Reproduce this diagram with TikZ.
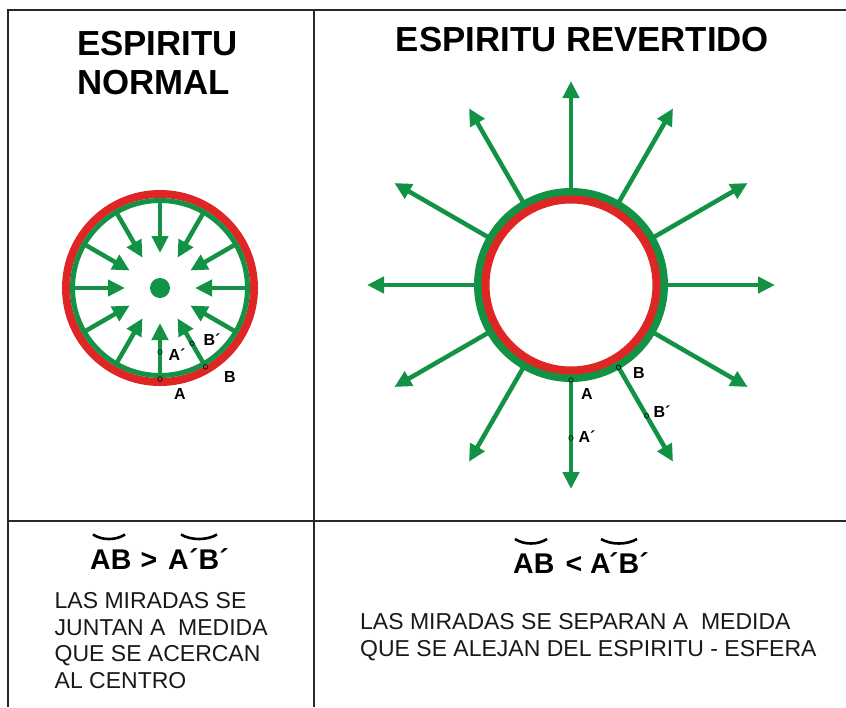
\documentclass[tikz,border=0pt]{standalone}
\usepackage{fontspec}
\setmainfont{Liberation Sans}
\usetikzlibrary{arrows.meta,calc}
\definecolor{gr}{RGB}{18,146,68}
\definecolor{rd}{RGB}{222,38,36}
\definecolor{frm}{RGB}{40,40,40}
\begin{document}
\begin{tikzpicture}[x=1pt,y=-1pt,
  frame/.style={draw=frm,line width=2pt},
  ttl/.style={font=\fontsize{34.8}{42}\selectfont\bfseries,inner sep=0},
  body/.style={font=\fontsize{23}{27}\selectfont,inner sep=0,anchor=base west,text=black!90},
  eqn/.style={font=\fontsize{28.5}{30}\selectfont\bfseries,inner sep=0,anchor=base west},
  lbl/.style={font=\fontsize{16}{16}\selectfont\bfseries,inner sep=0},
  arr/.style={draw=gr,line width=4.5pt,-{Triangle[length=17pt,width=16pt]}},
  pt/.style={circle,draw=black,line width=0.6pt,inner sep=0,minimum size=4.5pt},
  arcl/.style={draw=black,line width=2.6pt}
]
\fill[white] (0,0) rectangle (846,707);
\path[use as bounding box] (0,0) rectangle (846,707);
% frame
\draw[frame] (8,707) -- (8,10) -- (846,10);
\draw[frame] (314,10) -- (314,707);
\draw[frame] (8,521) -- (846,521);
% titles
\node[ttl,anchor=base west] (t1) at (77,55) {ESPIRITU};
\node[ttl,anchor=base west] (t2) at (77,94) {NORMAL};
\node[ttl,anchor=base] (t3) at (582.5,51) {ESPIRITU REVERTIDO};
% left circle
\coordinate (lc) at (160,288);
\draw[rd,line width=8pt] (lc) circle[radius=94];
\draw[gr,line width=5pt] (lc) circle[radius=87.5];
\fill[gr] (lc) circle[radius=10];
\foreach \a in {0,30,...,330}{
  \coordinate (lo\a) at ($(lc)+(\a:88)$);
  \coordinate (li\a) at ($(lc)+(\a:35)$);
  \draw[arr] (lo\a) -- (li\a);
}
\node[pt] (lA) at ($(lc)+(90:91)$) {};
\node[pt] (lB) at ($(lc)+(60:91)$) {};
\node[pt] (lAp) at ($(lc)+(90:64)$) {};
\node[pt] (lBp) at ($(lc)+(60:64)$) {};
\node[lbl] (lAl) at (180,394) {A};
\node[lbl] (lBl) at (230,377) {B};
\node[lbl] (lApl) at (177,355) {A´};
\node[lbl] (lBpl) at (212,340) {B´};
% right circle
\coordinate (rc) at (571,285);
\foreach \a in {0,30,...,330}{
  \coordinate (ro\a) at ($(rc)+(\a:94)$);
  \coordinate (rt\a) at ($(rc)+(\a:204)$);
  \draw[arr] (ro\a) -- (rt\a);
}
\draw[gr,line width=8pt] (rc) circle[radius=93];
\draw[rd,line width=8pt] (rc) circle[radius=85.5];
\node[pt] (rA) at ($(rc)+(90:95)$) {};
\node[pt] (rB) at ($(rc)+(60:95)$) {};
\node[pt] (rAp) at ($(rc)+(90:153)$) {};
\node[pt] (rBp) at ($(rc)+(60:151)$) {};
\node[lbl] (rAl) at (587,394) {A};
\node[lbl] (rBl) at (639,373) {B};
\node[lbl] (rBpl) at (662,412) {B´};
\node[lbl] (rApl) at (587,437) {A´};
% equations
\node[eqn] (eqL1) at (90,569) {AB};
\node[eqn] (eqL2) at (140.5,569) {>};
\node[eqn] (eqL3) at (168,569) {A};
\node[eqn] (eqL4) at (189,569) {´B´};
\draw[arcl] (93,534.5) .. controls (102,540.5) and (116,540.5) .. (125,534.5);
\draw[arcl] (181,534.5) .. controls (191,540.5) and (207,540.5) .. (217,534.5);
\node[eqn] (eqR1) at (513,573) {AB};
\node[eqn] (eqR2) at (565.5,573) {<};
\node[eqn] (eqR3) at (590,573) {A};
\node[eqn] (eqR4) at (609,573) {´B´};
\draw[arcl] (515,539) .. controls (524,545) and (538,545) .. (547,539);
\draw[arcl] (601,539) .. controls (611,545) and (627,545) .. (637,539);
% body text
\node[body] (l1) at (54.5,608.5) {LAS MIRADAS SE};
\node[body] (l2) at (54.5,635) {JUNTAN A~ MEDIDA};
\node[body] (l3) at (54.5,661.5) {QUE SE ACERCAN};
\node[body] (l4) at (54.5,688.5) {AL CENTRO};
\node[body] (r1) at (360,629.5) {LAS MIRADAS SE SEPARAN A~ MEDIDA};
\node[body] (r2) at (360,656.5) {QUE SE ALEJAN DEL ESPIRITU - ESFERA};
\end{tikzpicture}
\end{document}
